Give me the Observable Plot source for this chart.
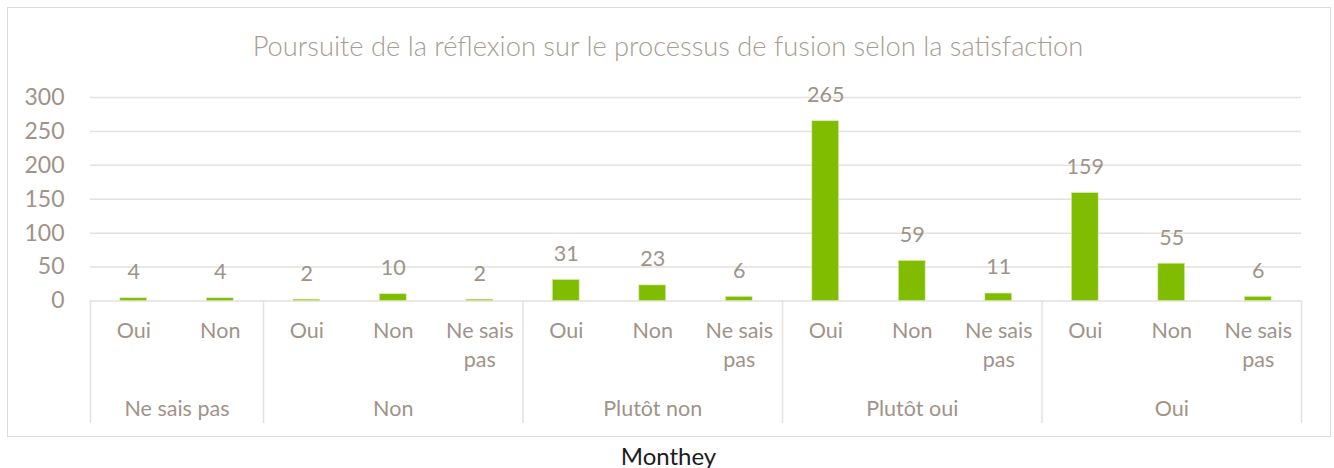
<!DOCTYPE html>
<html>
<head>
<meta charset="utf-8">
<script src="https://cdn.jsdelivr.net/npm/d3@7"></script>
<script src="https://cdn.jsdelivr.net/npm/@observablehq/plot@0.6"></script>
<style>
  html, body { margin: 0; padding: 0; background: #fff; }
  #wrap { position: relative; width: 1334px; height: 468px; font-family: Lato, "Open Sans", sans-serif; }
  #box { position: absolute; left: 7px; top: 7px; width: 1322px; height: 428px; border: 1.5px solid #e0dbd7; }
  #title { position: absolute; left: 0; width: 1336px; top: 32px; text-align: center; font-size: 27.3px; line-height: 1; font-weight: 300; color: #a89c93; white-space: nowrap; }
  #caption { position: absolute; left: 0; width: 1337px; top: 444px; text-align: center; font-size: 24px; line-height: 1; color: #1c1c1c; }
  #chart { position: absolute; left: 0; top: 0; }
</style>
</head>
<body>
<div id="wrap">
  <div id="box"></div>
  <div id="chart"></div>
  <div id="title"></div>
  <div id="caption"></div>
</div>
<script>
const titleText = "Poursuite de la réflexion sur le processus de fusion selon la satisfaction";
const captionText = "Monthey";
const groups = ["Ne sais pas", "Non", "Plutôt non", "Plutôt oui", "Oui"];
const answers = [
  ["Oui", "Non"],
  ["Oui", "Non", "Ne sais pas"],
  ["Oui", "Non", "Ne sais pas"],
  ["Oui", "Non", "Ne sais pas"],
  ["Oui", "Non", "Ne sais pas"]
];
const values = [
  [4, 4],
  [2, 10, 2],
  [31, 23, 6],
  [265, 59, 11],
  [159, 55, 6]
];
const yTicks = [0, 50, 100, 150, 200, 250, 300];

document.getElementById("title").textContent = titleText;
document.getElementById("caption").textContent = captionText;

// Build rows (index positions along a linear category axis)
const rows = [];
const groupRows = [];
let idx = 0;
groups.forEach((g, gi) => {
  const start = idx;
  answers[gi].forEach((a, ai) => {
    rows.push({group: g, answer: a, value: values[gi][ai], i: idx});
    idx++;
  });
  groupRows.push({group: g, start, end: idx, mid: (start + idx) / 2});
});
const n = idx;
const bounds = [0, ...groupRows.map(d => d.end)];

const green = "#80bc00";
const labelColor = "#a09389";
const gridColor = "#e6e1dd";

const chart = Plot.plot({
  width: 1334,
  height: 468,
  marginLeft: 90,
  marginRight: 33,
  marginTop: 97,
  marginBottom: 167.5,
  style: {fontFamily: "Lato, 'Open Sans', sans-serif", background: "transparent", overflow: "visible"},
  x: {type: "linear", domain: [0, n], axis: null},
  y: {domain: [0, 300], axis: null},
  marks: [
    Plot.ruleY(yTicks, {stroke: gridColor, strokeWidth: 1.5}),
    Plot.text(yTicks, {y: d => d, text: d => String(d), frameAnchor: "left", textAnchor: "end", dx: -26, fill: labelColor, fontSize: 23}),
    Plot.rectY(rows, {x1: d => d.i + 0.345, x2: d => d.i + 0.655, y1: 0, y2: "value", fill: green, stroke: "#d8ecae", strokeWidth: 0.6}),
    Plot.text(rows, {x: d => d.i + 0.5, y: "value", text: d => String(d.value), dy: -26, fill: labelColor, fontSize: 21.5}),
    // category separators
    Plot.ruleX(bounds, {x: d => d, y1: 0, y2: 0, stroke: gridColor, strokeWidth: 1.5, insetBottom: -122.5}),
    // sub-category labels
    Plot.text(rows, {x: d => d.i + 0.5, text: "answer", frameAnchor: "bottom", lineAnchor: "top", lineWidth: 4.2, lineHeight: 1.36, dy: 16, fill: labelColor, fontSize: 21.5}),
    // group labels
    Plot.text(groupRows, {x: "mid", text: "group", frameAnchor: "bottom", lineAnchor: "top", dy: 100, fill: labelColor, fontSize: 21.5})
  ]
});
document.getElementById("chart").appendChild(chart);
</script>
</body>
</html>
